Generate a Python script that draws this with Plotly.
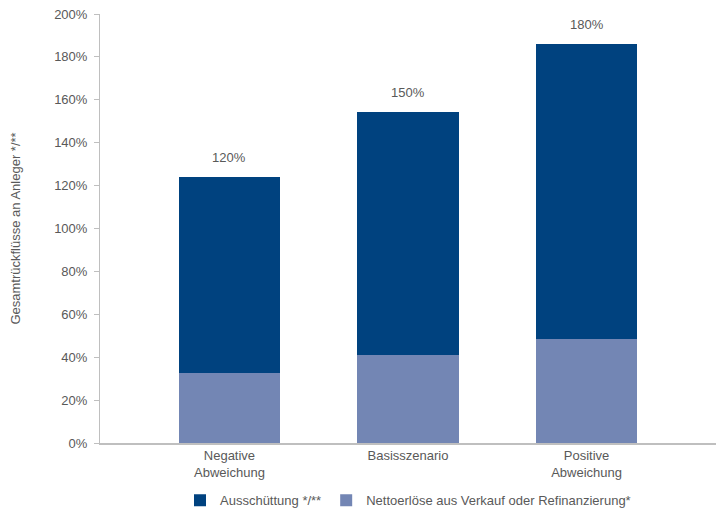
import plotly.graph_objects as go

categories = ["Negative<br>Abweichung", "Basisszenario", "Positive<br>Abweichung"]
netto = [32.5, 41.0, 48.5]
ausschuettung = [91.5, 113.5, 137.5]
labels = ["120%", "150%", "180%"]
tickvals = [0, 20, 40, 60, 80, 100, 120, 140, 160, 180, 200]
ticktext = [f"{v}%" for v in tickvals]

font_fam = "Liberation Sans, Arial, sans-serif"
grey = "#595959"

fig = go.Figure()
fig.add_trace(go.Bar(x=categories, y=netto, name="Nettoerlöse aus Verkauf oder Refinanzierung*",
                     marker=dict(color="#7386B4", line=dict(width=0)), width=0.566))
fig.add_trace(go.Bar(x=categories, y=ausschuettung, name="Ausschüttung */**",
                     marker=dict(color="#00427F", line=dict(width=0)), width=0.566))

totals = [a + b for a, b in zip(netto, ausschuettung)]
for c, t, lab in zip(categories, totals, labels):
    fig.add_annotation(x=c, y=t, text=lab, showarrow=False, yanchor="bottom", yshift=10,
                       font=dict(size=13, color=grey, family=font_fam))

fig.update_layout(
    barmode="stack",
    width=718, height=513,
    margin=dict(l=100, r=2, t=14, b=70, autoexpand=False),
    plot_bgcolor="white", paper_bgcolor="white",
    font=dict(family=font_fam, size=13, color=grey),
    legend=dict(orientation="h", x=0.5, xanchor="center", yref="container", y=0.025,
                yanchor="middle", traceorder="reversed", font=dict(size=13, color=grey),
                itemwidth=30),
    bargap=0.434,
    showlegend=True,
)
fig.update_xaxes(range=[-0.725, 2.725], showline=True, linecolor="#BFBFBF", linewidth=1.5,
                 ticks="", tickfont=dict(size=13, color=grey), showgrid=False, automargin=False)
fig.update_yaxes(range=[0, 200], tickvals=tickvals, ticktext=ticktext, showline=True,
                 linecolor="#BFBFBF", linewidth=1, ticks="outside", ticklen=5, tickcolor="#BFBFBF",
                 ticklabelstandoff=4, automargin=False,
                 showgrid=False, zeroline=False, tickfont=dict(size=13, color=grey),
                 title=dict(text="Gesamtrückflüsse an Anleger */**", font=dict(size=13, color=grey),
                            standoff=30))

fig.write_html("out.html")
